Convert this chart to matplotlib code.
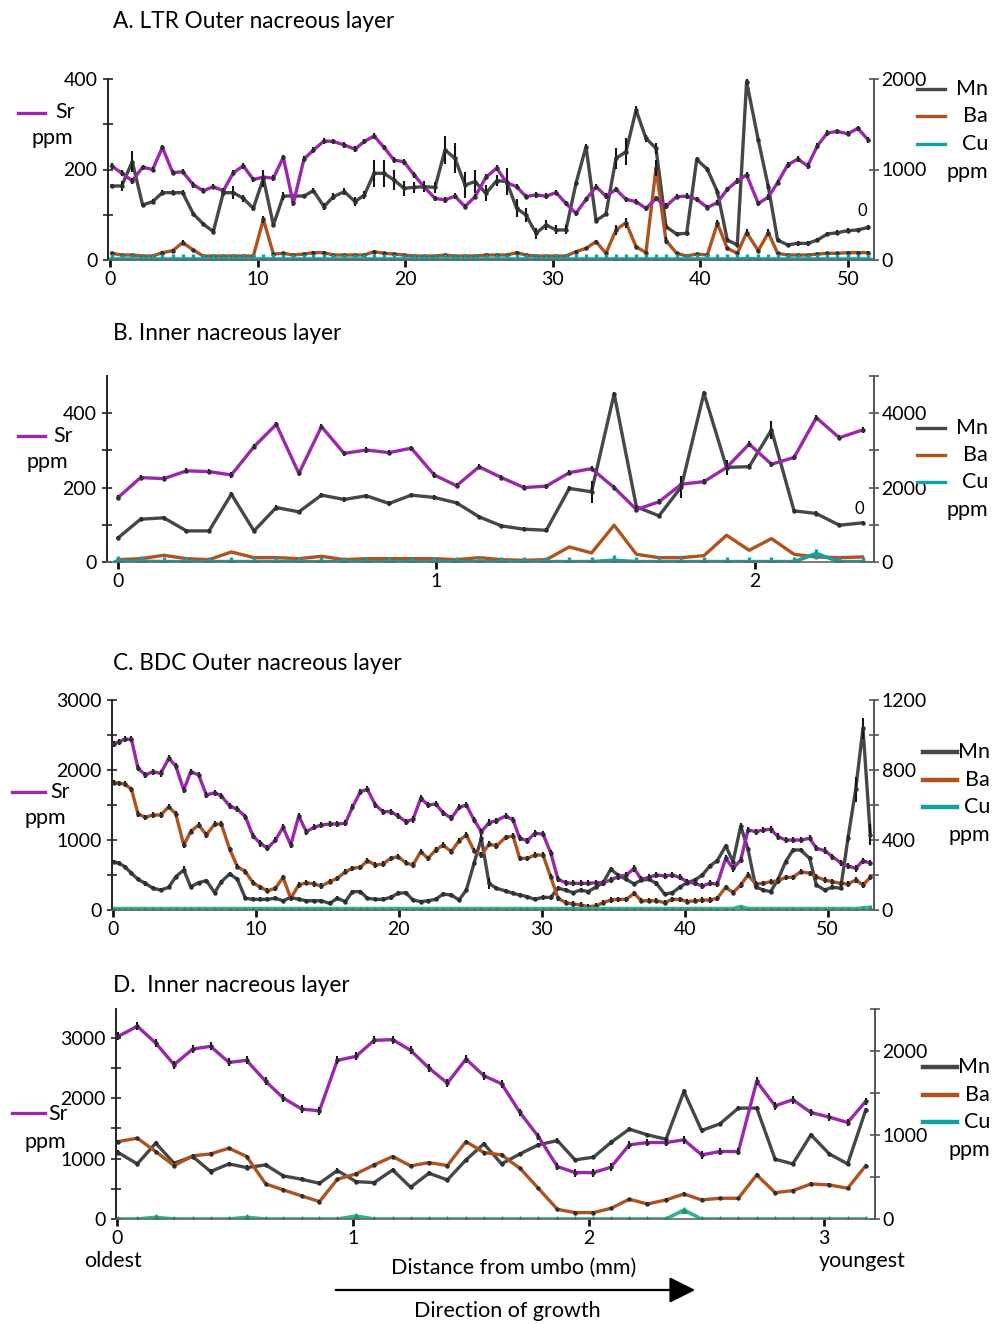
import matplotlib
matplotlib.use("Agg")
import matplotlib.pyplot as plt
from matplotlib.lines import Line2D
from matplotlib.patches import FancyArrowPatch

plt.rcParams['font.family'] = ['Lato', 'DejaVu Sans']

# ---------------- Panel A : LTR outer nacreous layer ----------------
xa = [0.11, 0.79, 1.51, 2.21, 2.89, 3.55, 4.25, 4.92, 5.65, 6.32, 7.0, 7.68, 8.36, 9.03, 9.71,
      10.39, 11.07, 11.74, 12.42, 13.14, 13.78, 14.5, 15.13, 15.88, 16.6, 17.23, 17.89, 18.56,
      19.24, 19.92, 20.6, 21.27, 22.02, 22.7, 23.37, 24.05, 24.73, 25.47, 26.2,
      26.87, 27.55, 28.18, 28.86, 29.54, 30.22, 30.89, 31.57, 32.25, 32.93, 33.6, 34.28, 34.96,
      35.64, 36.31, 36.99, 37.67, 38.39, 39.07, 39.75, 40.47, 41.15, 41.82, 42.5, 43.13, 43.92,
      44.6, 45.23, 45.91, 46.59, 47.27, 47.92, 48.6, 49.28, 49.98, 50.66, 51.38]
sr_a = [208, 192, 175, 205, 200, 249, 193, 195, 166, 153, 162, 153, 193, 208, 178, 183, 181, 227,
        125, 223, 243, 263, 262, 254, 245, 262, 274, 249, 221, 217, 188, 162, 136, 133, 141, 118,
        140, 183, 203,
        171, 162, 140, 144, 141, 149, 125, 103, 134, 162, 141, 156, 134, 129, 114, 136, 119, 140,
        141, 134, 116, 127, 156, 175, 188, 125, 139, 171, 210, 223, 208, 252, 281, 284, 279, 291, 265]
mn_a = [818, 818, 1087, 608, 645, 744, 744, 744, 508, 398, 313, 744, 744, 681, 571, 902, 387, 707,
        707, 707, 766, 589, 700, 755, 645, 718, 958, 958, 884, 792, 803, 810, 803, 1216, 1123, 829,
        866, 737, 877,
        866, 571, 497, 295, 387, 332, 332, 847, 1252, 435, 508, 1123, 1197, 1658, 1344, 1234, 368,
        287, 295, 1112, 1002, 755, 221, 166, 1971, 1326, 810, 221, 166, 184, 184, 221, 287, 302,
        324, 332, 361]
mn_err_a = [25, 55, 120, 25, 25, 25, 25, 25, 25, 25, 25, 25, 75, 40, 25, 90, 25, 40, 25, 25, 25, 40,
            40, 40, 50, 40, 147, 147, 110, 80, 60, 60, 60, 155, 165, 147, 130, 90, 60, 150, 100, 80,
            60, 60, 50, 50, 25, 25, 25, 25, 120, 150, 40, 40, 60, 25, 25, 25, 25, 25, 25, 25, 25, 40,
            25, 25, 25, 25, 25, 25, 25, 25, 25, 25, 25, 25]
ba_a = [74, 55, 55, 44, 44, 81, 103, 192, 110, 44, 44, 44, 44, 44, 44, 449, 66, 74, 55, 66, 81, 81,
        55, 55, 55, 55, 92, 74, 66, 55, 44, 44, 44, 55, 44, 44, 44, 55, 55,
        55, 81, 55, 44, 44, 44, 44, 92, 129, 203, 74, 332, 413, 147, 81, 1013, 214, 74, 44, 66, 55,
        405, 129, 74, 302, 103, 302, 74, 55, 55, 55, 66, 74, 74, 81, 81, 81]
ba_err_a = [15, 15, 15, 15, 15, 15, 15, 30, 15, 15, 15, 15, 15, 15, 15, 40, 15, 15, 15, 15, 15, 15,
            15, 15, 15, 15, 15, 15, 15, 15, 15, 15, 15, 15, 15, 15, 15, 15, 15, 15, 15, 15, 15, 15,
            15, 15, 15, 15, 15, 15, 55, 55, 15, 15, 90, 40, 15, 15, 15, 15, 40, 15, 15, 40, 15, 40,
            15, 15, 15, 15, 15, 15, 15, 15, 15, 15]
cu_a = [10, 10, 10, 10, 10, 10, 10, 10, 10, 10, 10, 10, 10, 10, 10, 10, 10, 10, 10, 10, 10, 10,
        10, 10, 10, 10, 10, 10, 10, 10, 10, 10, 10, 10, 10, 10, 10, 10, 10, 10, 10, 10, 10, 10,
        10, 10, 10, 10, 10, 10, 10, 10, 10, 10, 10, 10, 10, 10, 10, 10, 10, 10, 10, 15, 10, 10,
        10, 10, 10, 10, 10, 10, 10, 10, 10, 10]

# ---------------- Panel B : inner nacreous layer ----------------
xb = [0.0, 0.071, 0.144, 0.215, 0.286, 0.356, 0.427, 0.497, 0.568, 0.639, 0.710, 0.780, 0.851,
      0.921, 0.993, 1.063, 1.134, 1.204, 1.275, 1.345, 1.417, 1.487, 1.558, 1.628, 1.699, 1.769,
      1.840, 1.911, 1.982, 2.052, 2.123, 2.193, 2.265, 2.338]
sr_b = [173, 227, 224, 245, 243, 234, 310, 370, 238, 364, 292, 301, 294, 306, 234, 205, 256,
        227, 200, 204, 240, 251, 200, 141, 162, 209, 216, 254, 317, 263, 281, 388, 334, 355]
mn_b = [647, 1151, 1187, 836, 836, 1825, 836, 1465, 1348, 1798, 1681, 1780, 1573, 1798, 1735, 1591,
        1214, 971, 881, 854, 1978, 1888, 4522, 1483, 1241, 2023, 4539, 2544, 2562, 3551, 1375,
        1303, 989, 1052]
mn_err_b = [60, 60, 60, 60, 60, 60, 60, 60, 60, 60, 60, 60, 60, 60, 60, 60, 60, 60, 60, 60, 60, 300,
            60, 60, 60, 300, 60, 200, 60, 250, 60, 60, 60, 60]
ba_b = [63, 90, 180, 90, 63, 270, 117, 117, 90, 153, 63, 90, 90, 90, 90, 63, 117,
        63, 45, 63, 405, 243, 989, 207, 117, 117, 171, 719, 315, 629, 207, 135, 117, 135]
cu_b = [20, 20, 10, 10, 10, 10, 10, 10, 10, 10, 10, 10, 10, 10, 10, 10, 10,
        10, 10, 10, 10, 10, 45, 10, 10, 10, 10, 10, 10, 10, 10, 225, 10, 10]

# ---------------- Panel C : BDC outer nacreous layer ----------------
xc = [0.07, 0.42, 0.84, 1.31, 1.77, 2.28, 2.82, 3.36, 3.92, 4.41, 4.97, 5.45, 6.01, 6.55, 7.13,
      7.60, 8.18, 8.72, 9.28, 9.81, 10.33, 10.82, 11.38, 11.91, 12.45, 13.01, 13.54, 14.08, 14.59,
      15.17, 15.71, 16.27, 16.76, 17.32, 17.81, 18.37, 18.90, 19.44, 19.95, 20.49, 21.00, 21.54,
      22.05, 22.59, 23.10, 23.68, 24.22, 24.73, 25.27, 25.78, 26.32, 26.83,
      27.48, 28.00, 28.46, 29.00, 29.51, 30.09, 30.63, 31.14, 31.68, 32.19, 32.73, 33.24, 33.78,
      34.29, 34.83, 35.34, 35.92, 36.46, 36.97, 37.51, 38.02, 38.60, 39.14, 39.65, 40.16, 40.70,
      41.24, 41.75, 42.28, 42.87, 43.38, 43.92, 44.43, 44.97, 45.48, 46.01, 46.53, 47.06, 47.58,
      48.11, 48.74, 49.21, 49.79, 50.33, 50.91, 51.42, 51.96, 52.47, 52.98]
sr_c = [2371, 2405, 2438, 2438, 2024, 1929, 1976, 1952, 2167, 2057, 1714, 1976, 1929, 1643, 1676,
        1629, 1486, 1438, 1333, 1057, 952, 881, 1000, 1181, 929, 1343, 1119, 1181, 1214, 1229,
        1229, 1238, 1467, 1690, 1724, 1500, 1405, 1405, 1343, 1262, 1295, 1595, 1500, 1514, 1390,
        1310, 1467, 1500, 1286, 1119, 1248, 1276,
        1343, 1286, 1024, 990, 1095, 1086, 819, 438, 390, 381, 381, 381, 390, 390, 429, 476, 500,
        595, 438, 467, 500, 486, 500, 467, 405, 381, 343, 381, 371, 738, 595, 714, 1143, 1119,
        1143, 1152, 1048, 1000, 1000, 1000, 1024, 881, 848, 762, 676, 629, 595, 705, 667]
ba_c = [728, 724, 720, 690, 549, 530, 543, 543, 590, 549, 371, 448, 486, 429, 491, 491, 347, 248,
        219, 156, 130, 110, 124, 187, 67, 143, 156, 149, 137, 162, 181, 219, 238, 244, 282, 257,
        263, 295, 305, 270, 257, 333, 295, 343, 371, 333, 396, 429, 339, 314, 377, 366,
        415, 423, 295, 295, 314, 314, 190, 67, 42, 34, 29, 19, 23, 42, 57, 61, 61, 95, 53, 53, 53,
        42, 61, 61, 48, 53, 57, 57, 67, 130, 99, 143, 200, 149, 152, 162, 166, 187, 187, 219, 210,
        190, 171, 162, 152, 149, 171, 143, 187]
mn_c = [276, 267, 248, 210, 175, 152, 124, 114, 130, 190, 229, 133, 156, 168, 99, 162, 206, 175,
        67, 61, 61, 61, 67, 53, 72, 61, 53, 53, 53, 38, 67, 48, 105, 105, 67, 61, 61, 72, 95, 99,
        57, 48, 53, 61, 91, 86, 57, 114, 267, 410, 152, 124,
        109, 95, 86, 76, 61, 72, 72, 124, 114, 99, 114, 105, 130, 156, 232, 200, 175, 149, 171,
        175, 152, 91, 99, 130, 156, 171, 200, 251, 282, 366, 276, 480, 347, 133, 114, 105, 175,
        276, 343, 343, 295, 143, 114, 130, 124, 410, 690, 1038, 429]
mn_err_c = [12, 12, 12, 12, 12, 12, 12, 12, 12, 12, 20, 12, 12, 12, 12, 12, 12, 12, 12, 12, 12, 12,
            12, 12, 12, 12, 12, 12, 12, 12, 12, 12, 12, 12, 12, 12, 12, 12, 12, 12, 12, 12, 12, 12,
            12, 12, 12, 12, 12, 20, 30, 12, 12, 12, 12, 12, 12, 12, 12, 12, 12, 12, 12, 12, 12, 12,
            12, 12, 12, 12, 12, 12, 12, 12, 12, 12, 12, 12, 12, 12, 12, 12, 12, 20, 12, 12, 12, 12,
            12, 12, 12, 12, 12, 12, 12, 12, 12, 20, 70, 60, 60]
cu_c = [8, 8, 8, 8, 8, 8, 8, 8, 8, 8, 8, 8, 8, 8, 8, 8, 8, 8, 8, 8, 8, 8, 8, 8, 8, 8, 8, 8, 8, 8,
        8, 8, 8, 8, 8, 8, 8, 8, 8, 8, 8, 8, 8, 8, 8, 8, 8, 8, 8, 8, 8, 8, 8, 8, 8, 8, 8, 8, 8, 8,
        8, 8, 8, 8, 8, 8, 8, 8, 8, 8, 8, 8, 8, 8, 8, 8, 8, 8, 8, 8, 8, 8, 8, 20, 8, 8, 8, 8, 8, 8,
        8, 8, 8, 8, 8, 8, 8, 8, 8, 12, 15]

# ---------------- Panel D : inner nacreous layer ----------------
xd = [0.004, 0.085, 0.163, 0.241, 0.320, 0.396, 0.474, 0.549, 0.630, 0.705, 0.783, 0.858, 0.934,
      1.013, 1.090, 1.169, 1.245, 1.323, 1.401, 1.480, 1.556, 1.631, 1.709, 1.787, 1.868, 1.943,
      2.021, 2.095, 2.173, 2.250, 2.329, 2.405, 2.480, 2.558, 2.636, 2.714, 2.792, 2.867, 2.944,
      3.022, 3.100, 3.176]
sr_d = [3027, 3193, 2916, 2557, 2817, 2861, 2595, 2629, 2280, 2003, 1821, 1793, 2629, 2695, 2961,
        2972, 2795, 2501, 2252, 2651, 2374, 2241, 1765, 1367, 869, 769, 769, 858, 1229, 1267, 1267,
        1312, 1063, 1118, 1118, 2280, 1876, 1976, 1765, 1688, 1599, 1948]
ba_d = [922, 962, 803, 636, 751, 775, 843, 744, 417, 346, 274, 207, 473, 537, 644, 744, 632, 672,
        636, 922, 791, 763, 604, 366, 115, 76, 76, 127, 235, 179, 227, 298, 227, 247, 247, 525,
        314, 338, 417, 406, 366, 632]
mn_d = [791, 656, 903, 664, 744, 565, 656, 612, 644, 513, 473, 425, 577, 445, 433, 584, 378, 545,
        465, 704, 895, 656, 775, 883, 934, 704, 736, 911, 1070, 1002, 950, 1519, 1054, 1133, 1320,
        1320, 712, 656, 1002, 775, 656, 1292]
cu_d = [0, 0, 20, 0, 0, 0, 0, 20, 0, 0, 0, 0, 0, 35, 0, 0, 0, 0, 0, 0, 0, 0, 0, 0, 0, 0, 0, 0, 0,
        0, 0, 107, 0, 0, 0, 0, 0, 0, 0, 0, 0, 0]

# ---------------- text ----------------
titles = ["A. LTR Outer nacreous layer", "B. Inner nacreous layer",
          "C. BDC Outer nacreous layer", "D.  Inner nacreous layer"]

SR = '#9b27ad'
MN = '#434848'
BA = '#b0521e'
CU1 = '#12a0a0'
CU2 = '#2cb592'
CU2M = '#169a55'
FS = 14
FT = 16.3
FL = 15.5

W, H = 1000, 1324
fig = plt.figure(figsize=(W / 100, H / 100), dpi=100)


def fx(px):
    return px / W


def fy(py):
    return 1 - py / H


def make_axes(l, r, t, b, xlim, ylim_l, ylim_r, lmaj, lmin, rmaj, rmin, xmaj):
    ax = fig.add_axes([fx(l), fy(b), fx(r) - fx(l), fy(t) - fy(b)])
    ax2 = ax.twinx()
    for a in (ax, ax2):
        a.set_xlim(*xlim)
        a.patch.set_visible(False)
        a.spines['top'].set_visible(False)
    ax.set_ylim(*ylim_l)
    ax2.set_ylim(*ylim_r)
    ax.spines['right'].set_visible(False)
    ax2.spines['left'].set_visible(False)
    ax2.spines['bottom'].set_visible(False)
    ax.spines['left'].set_color('#222222')
    ax.spines['left'].set_linewidth(1.4)
    ax2.spines['right'].set_color('#555555')
    ax2.spines['right'].set_linewidth(1.4)
    ax.spines['bottom'].set_color('#666666')
    ax.spines['bottom'].set_linewidth(1.2)
    ax.set_yticks(lmaj)
    ax.set_yticks(lmin, minor=True)
    ax2.set_yticks(rmaj)
    ax2.set_yticks(rmin, minor=True)
    ax.set_xticks(xmaj)
    ax.tick_params(axis='y', which='both', direction='inout', length=7, width=1.2,
                   labelsize=FS, pad=4, color='#222222')
    ax2.tick_params(axis='y', which='both', direction='inout', length=7, width=1.2,
                    labelsize=FS, pad=2, color='#555555')
    ax.tick_params(axis='x', direction='out', length=5, width=2, labelsize=FS, pad=3,
                   color='#111111')
    ax.set_zorder(2)
    ax2.set_zorder(1)
    return ax, ax2


def series(ax, x, y, color, err=None, lw=2.4, z=3, marker=None, ms=0, mew=0, mfc=None):
    ax.plot(x, y, color=color, lw=lw, zorder=z, marker=marker, ms=ms, mew=mew,
            mec=mfc or color, mfc=mfc or color)
    if err is not None:
        ax.errorbar(x, y, yerr=err, fmt='none', ecolor='#151515', elinewidth=1.5,
                    capsize=0, zorder=z + 0.1)
        ax.plot(x, y, ls='none', marker='o', ms=2.2, color='#303030', zorder=z + 0.2)


def legends(sr_line, sr_txt, ppm_l, rx0, rx1, rys, rtx, ppm_r, cu_col, lw_r):
    x0, x1, y = sr_line
    fig.add_artist(Line2D([fx(x0), fx(x1)], [fy(y), fy(y)], color=SR, lw=2.4,
                          transform=fig.transFigure))
    fig.text(fx(sr_txt[0]), fy(sr_txt[1]), "Sr", fontsize=FL, ha='left', va='center')
    fig.text(fx(ppm_l[0]), fy(ppm_l[1]), "ppm", fontsize=FL, ha='center', va='center')
    for lab, col, yy in zip(["Mn", "Ba", "Cu"], [MN, BA, cu_col], rys):
        fig.add_artist(Line2D([fx(rx0), fx(rx1)], [fy(yy), fy(yy)], color=col, lw=lw_r,
                              transform=fig.transFigure))
        fig.text(fx(rtx), fy(yy), lab, fontsize=FL, ha='right', va='center')
    fig.text(fx(rtx), fy(ppm_r), "ppm", fontsize=FL, ha='right', va='center')


# ---- Panel A ----
axA, axA2 = make_axes(108, 874, 79, 260, (-0.135, 51.76), (0, 400), (0, 2000),
                      [0, 200, 400], [100, 300], [0, 1000, 2000], [], [0, 10, 20, 30, 40, 50])
series(axA, xa, sr_a, SR, err=6, z=5)
series(axA2, xa, mn_a, MN, err=mn_err_a, z=3)
series(axA2, xa, ba_a, BA, err=ba_err_a, z=3.5)
series(axA2, xa, cu_a, CU1, lw=2.6, z=4, marker='+', ms=7, mew=2.4)
fig.text(fx(113), fy(22), titles[0], fontsize=FT, ha='left', va='center')
fig.text(fx(862), fy(211), "0", fontsize=FS - 2, ha='center', va='center')
legends((18, 45, 113), (55, 112), (52, 138), 917, 945, (89, 116, 144), 988, 172, CU1, 2.4)

# ---- Panel B ----
axB, axB2 = make_axes(107, 874, 376, 562, (-0.0345, 2.374), (0, 500), (0, 5000),
                      [0, 200, 400], [100, 300], [0, 2000, 4000], [1000, 3000, 5000], [0, 1, 2])
series(axB, xb, sr_b, SR, err=7, z=5)
series(axB2, xb, mn_b, MN, err=mn_err_b, z=3)
series(axB2, xb, ba_b, BA, z=3.5)
series(axB2, xb, cu_b, CU1, lw=2.6, z=4, marker='+', ms=7, mew=2.4)
fig.text(fx(113), fy(333), titles[1], fontsize=FT, ha='left', va='center')
fig.text(fx(859), fy(509), "0", fontsize=FS - 2, ha='center', va='center')
legends((18, 45, 436), (53, 436), (47, 462), 917, 945, (428, 455, 482), 988, 510, CU1, 2.4)

# ---- Panel C ----
axC, axC2 = make_axes(112, 874, 700, 910, (-0.05, 53.24), (0, 3000), (0, 1200),
                      [0, 1000, 2000, 3000], [500, 1500, 2500], [0, 400, 800, 1200],
                      [200, 600, 1000], [0, 10, 20, 30, 40, 50])
series(axC, xc, sr_c, SR, err=45, z=5)
series(axC2, xc, mn_c, MN, err=mn_err_c, z=3)
series(axC2, xc, ba_c, BA, err=15, z=3.5)
series(axC2, xc, cu_c, CU2, lw=2.6, z=4, marker='^', ms=2.5, mew=0.5, mfc=CU2M)
fig.text(fx(113), fy(663), titles[2], fontsize=FT, ha='left', va='center')
legends((12, 45, 792), (50, 792), (45, 818), 923, 957, (752, 780, 807), 990, 835, CU1, 3.2)

# ---- Panel D ----
axD, axD2 = make_axes(116, 875, 1009, 1219, (-0.0055, 3.216), (0, 3480), (0, 2500),
                      [0, 1000, 2000, 3000], [500, 1500, 2500], [0, 1000, 2000],
                      [500, 1500, 2500], [0, 1, 2, 3])
series(axD, xd, sr_d, SR, err=65, z=5)
series(axD2, xd, mn_d, MN, err=25, z=3)
series(axD2, xd, ba_d, BA, err=20, z=3.5)
series(axD2, xd, cu_d, CU2, lw=2.6, z=4, marker='^', ms=4, mew=0.5, mfc=CU2M)
fig.text(fx(113), fy(986), titles[3], fontsize=FT, ha='left', va='center')
legends((12, 45, 1113), (48, 1114), (45, 1142), 923, 957, (1067, 1095, 1122), 990, 1150, CU1, 3.2)

# ---- bottom annotations ----
fig.text(fx(113), fy(1261), "oldest", fontsize=FL, ha='center', va='center')
fig.text(fx(862), fy(1261), "youngest", fontsize=FL, ha='center', va='center')
fig.text(fx(514), fy(1268), "Distance from umbo (mm)", fontsize=FL, ha='center', va='center')
fig.text(fx(507), fy(1311), "Direction of growth", fontsize=FL, ha='center', va='center')
arrow = FancyArrowPatch((fx(333), fy(1290)), (fx(698), fy(1290)), transform=fig.transFigure,
                        arrowstyle='-|>,head_length=10,head_width=5', color='black', lw=1.6,
                        mutation_scale=1.6)
fig.add_artist(arrow)

fig.savefig("out.png", dpi=100)
